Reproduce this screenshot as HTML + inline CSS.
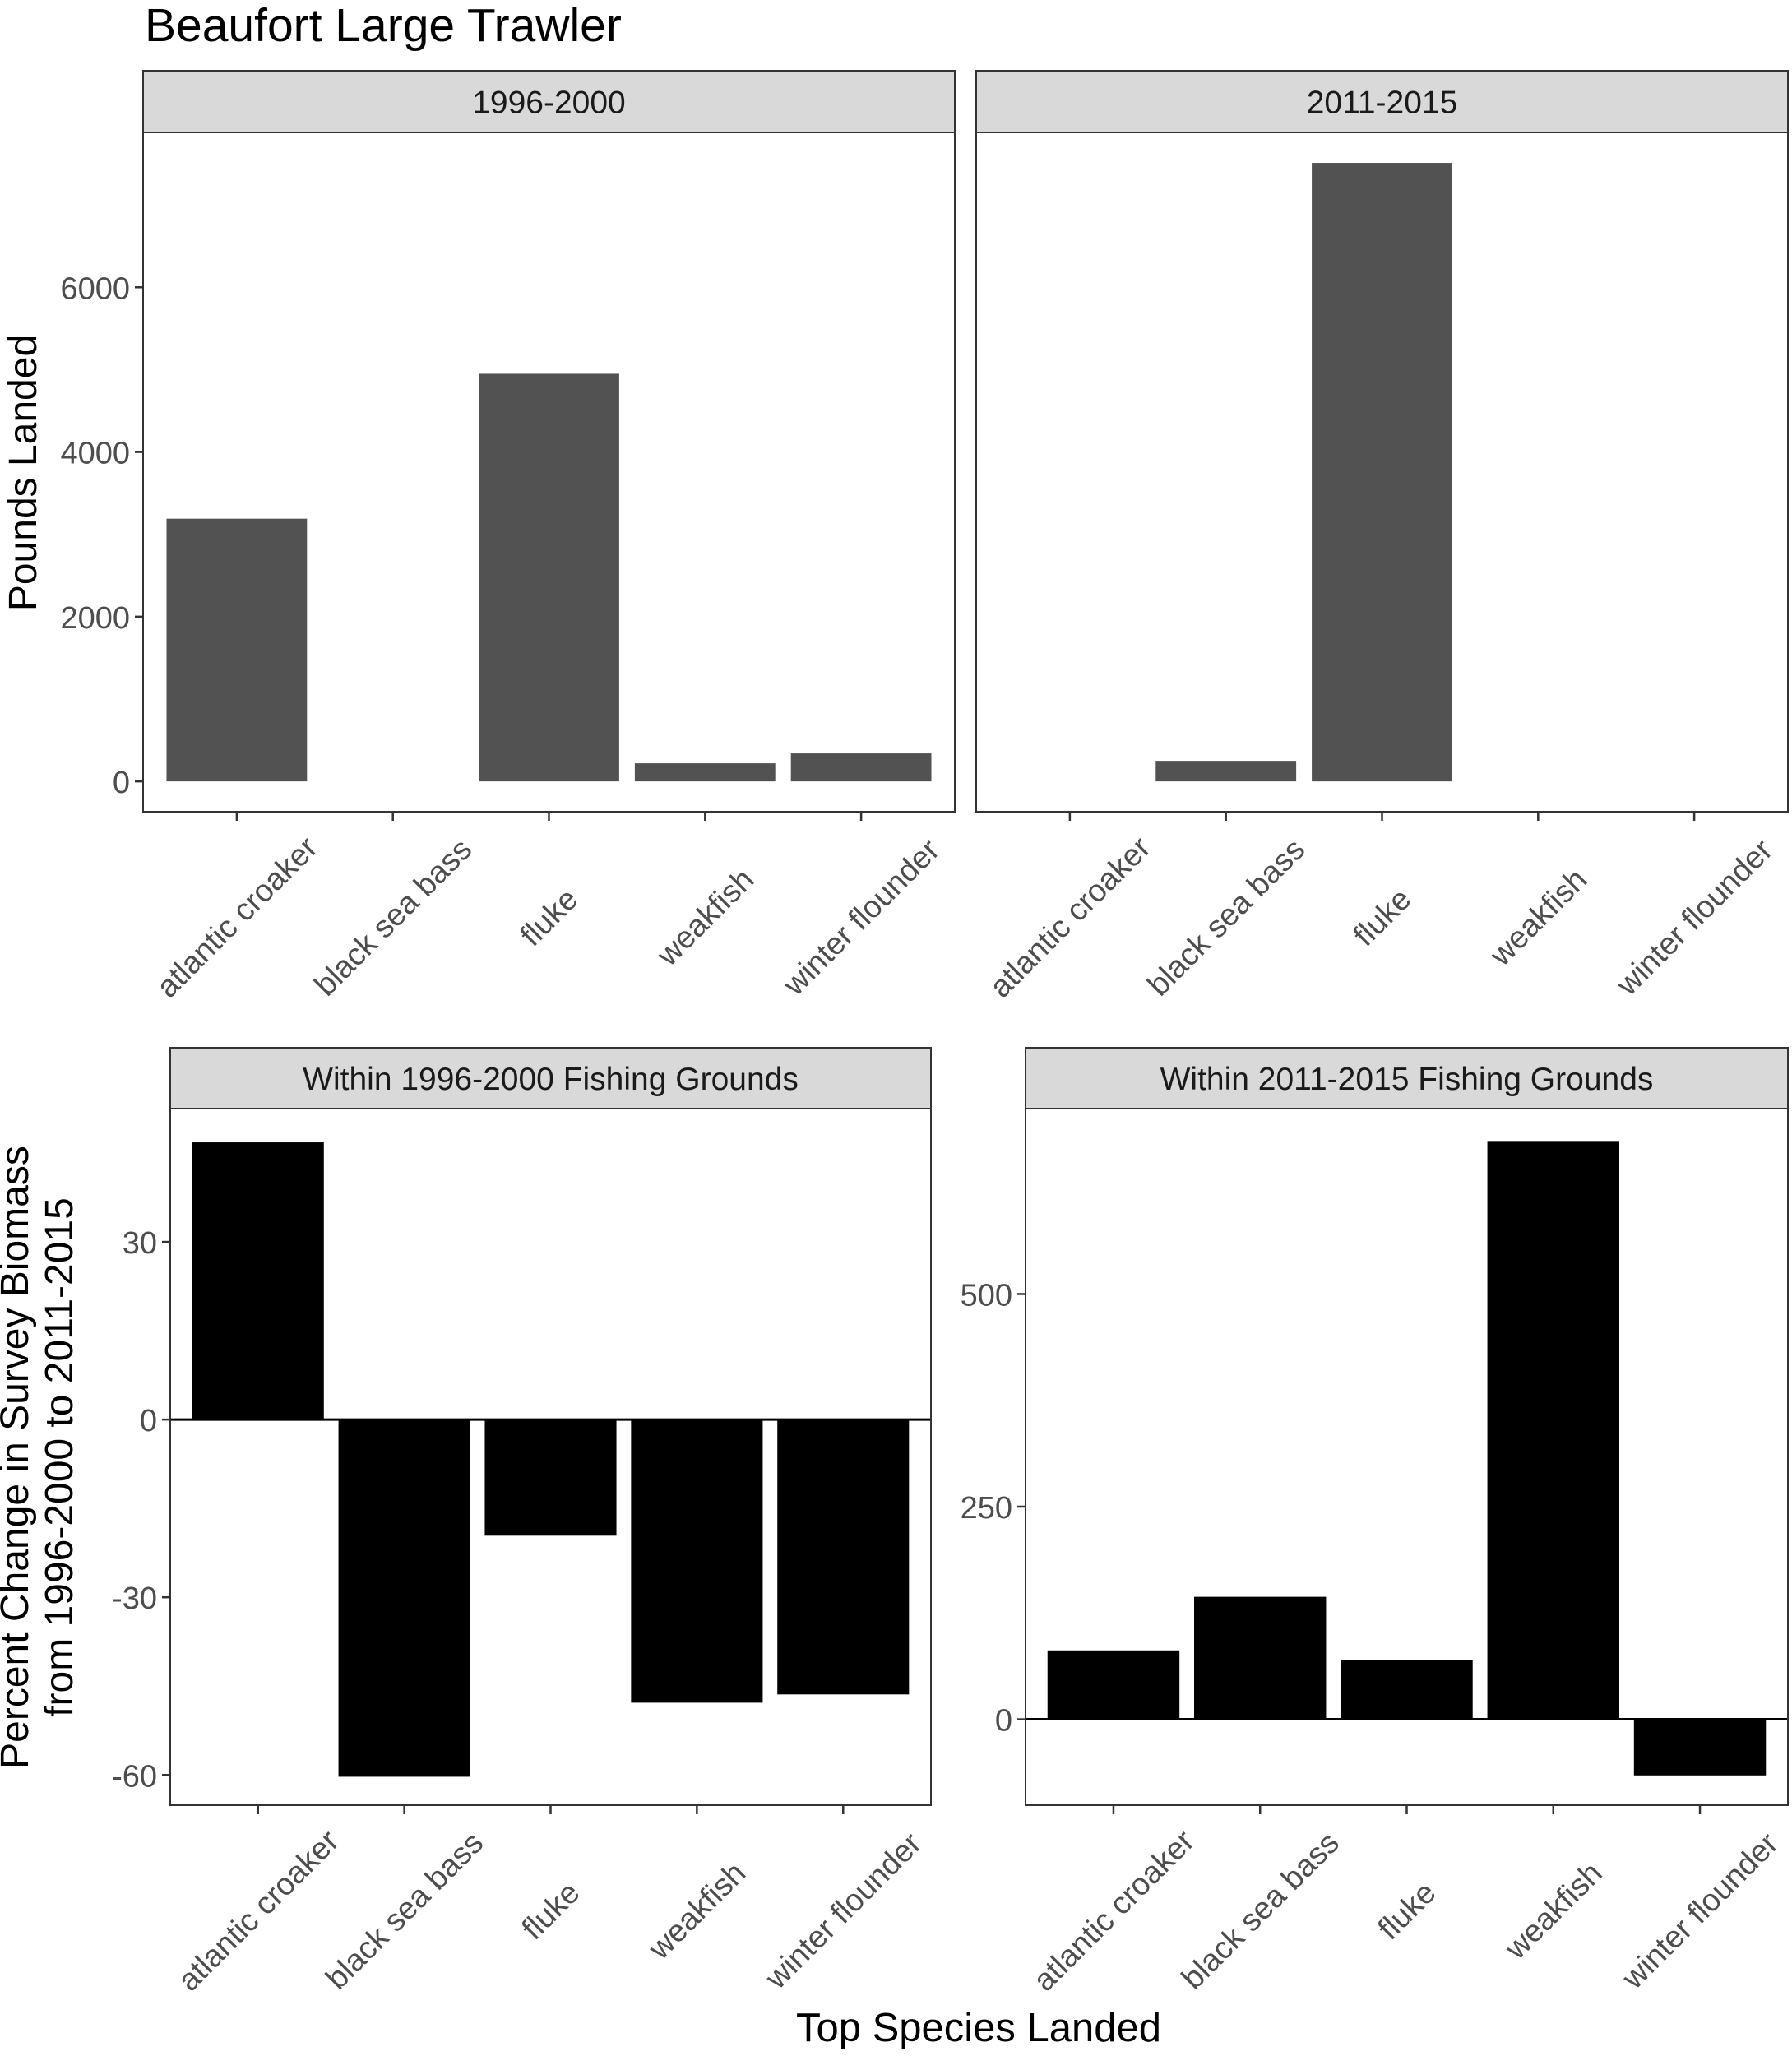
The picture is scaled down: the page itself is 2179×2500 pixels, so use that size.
<!DOCTYPE html>
<html><head><meta charset="utf-8"><style>
html,body{margin:0;padding:0;background:#fff;}
svg{display:block;font-family:"Liberation Sans",sans-serif;}
</style></head><body>
<svg id="chart" width="2179" height="2500" viewBox="0 0 2179 2500" xmlns="http://www.w3.org/2000/svg">
<text x="176" y="50" font-size="57" fill="#000">Beaufort Large Trawler</text>
<text transform="translate(44,575) rotate(-90)" text-anchor="middle" font-size="48" fill="#000">Pounds Landed</text>
<text transform="translate(42,1772) rotate(-90)" text-anchor="middle" font-size="48" fill="#000"><tspan x="0" dy="-8">Percent Change in Survey Biomass</tspan><tspan x="0" dy="54">from 1996-2000 to 2011-2015</tspan></text>
<text x="1190" y="2482" text-anchor="middle" font-size="49" fill="#000">Top Species Landed</text>
<g id="panels"></g>
</svg>
<script>
const species = ["atlantic croaker","black sea bass","fluke","weakfish","winter flounder"];
const pounds1996 = [3190, null, 4950, 220, 340];
const pounds2011 = [null, 250, 7510, null, null];
const pct1996 = [46.8, -60.3, -19.6, -47.8, -46.4];
const pct2011 = [81, 144, 70, 679, -66];
const ticksTop = [0, 2000, 4000, 6000];
const ticksPct1996 = [-60, -30, 0, 30];
const ticksPct2011 = [0, 250, 500];

const NS = "http://www.w3.org/2000/svg";
const root = document.getElementById('panels');
function mk(tag, attrs, parent){
  const e = document.createElementNS(NS, tag);
  for (const k in attrs) e.setAttribute(k, attrs[k]);
  (parent||root).appendChild(e);
  return e;
}
function panel(cfg){
  const g = mk('g', {});
  
  
  const {left,right,stripTop,stripBot,bottom,ymin,ymax,vals,ticks,fill,strip,zeroLine,showYLabels} = cfg;
  const top = stripBot;
  const y = v => bottom - (v - ymin) / (ymax - ymin) * (bottom - top);
  const n = species.length;
  const step = (right - left) / (n + 0.2);
  const x = i => left + step * (0.6 + i);
  const s = mk('rect', {x:left, y:stripTop, width:right-left, height:stripBot-stripTop, fill:'#d9d9d9', stroke:'#333', 'stroke-width':2}, g);
  
  
  const st = mk('text', {x:(left+right)/2, y:(stripTop+stripBot)/2+14, 'text-anchor':'middle', 'font-size':39, fill:'#1a1a1a'}, g);
  st.textContent = strip;
  
  
  vals.forEach((v,i)=>{
    if (v === null) return;
    const y0 = y(0), y1 = y(v);
    const r = mk('rect', {x:x(i)-step*0.45, y:Math.min(y0,y1), width:step*0.9, height:Math.abs(y1-y0), fill:fill}, g);
    
    
  });
  if (zeroLine){
    const zl = mk('line', {x1:left, x2:right, y1:y(0), y2:y(0), stroke:'#000', 'stroke-width':3}, g);
    
    
  }
  const b = mk('rect', {x:left, y:top, width:right-left, height:bottom-top, fill:'none', stroke:'#333', 'stroke-width':2}, g);
  
  
  if (showYLabels){
    ticks.forEach(t=>{
      mk('line', {x1:left-10, x2:left, y1:y(t), y2:y(t), stroke:'#333', 'stroke-width':2.5}, g);
      const tl = mk('text', {x:left-16, y:y(t)+14, 'text-anchor':'end', 'font-size':38, fill:'#4d4d4d'}, g);
      tl.textContent = t;
      
      
    });
  }
  species.forEach((sp,i)=>{
    mk('line', {x1:x(i), x2:x(i), y1:bottom, y2:bottom+11, stroke:'#333', 'stroke-width':2.5}, g);
    const ax = x(i), ay = bottom+128;
    const tl = mk('text', {transform:`translate(${ax},${ay}) rotate(-45)`, 'text-anchor':'middle', dy:'13', 'font-size':38, fill:'#4d4d4d'}, g);
    tl.textContent = sp;
    
    
  });
}
panel({name:'panel-pounds-1996-2000', left:174, right:1161, stripTop:86, stripBot:161, bottom:987, ymin:-368, ymax:7880, vals:pounds1996, ticks:ticksTop, fill:'#525252', strip:'1996-2000', zeroLine:false, showYLabels:true});
panel({name:'panel-pounds-2011-2015', left:1187, right:2174, stripTop:86, stripBot:161, bottom:987, ymin:-368, ymax:7880, vals:pounds2011, ticks:ticksTop, fill:'#525252', strip:'2011-2015', zeroLine:false, showYLabels:false});
panel({name:'panel-pct-1996-2000', left:207, right:1132, stripTop:1274, stripBot:1348, bottom:2195, ymin:-65.1, ymax:52.5, vals:pct1996, ticks:ticksPct1996, fill:'#000', strip:'Within 1996-2000 Fishing Grounds', zeroLine:true, showYLabels:true});
panel({name:'panel-pct-2011-2015', left:1247, right:2174, stripTop:1274, stripBot:1348, bottom:2195, ymin:-101, ymax:718, vals:pct2011, ticks:ticksPct2011, fill:'#000', strip:'Within 2011-2015 Fishing Grounds', zeroLine:true, showYLabels:true});
</script>
</body></html>
